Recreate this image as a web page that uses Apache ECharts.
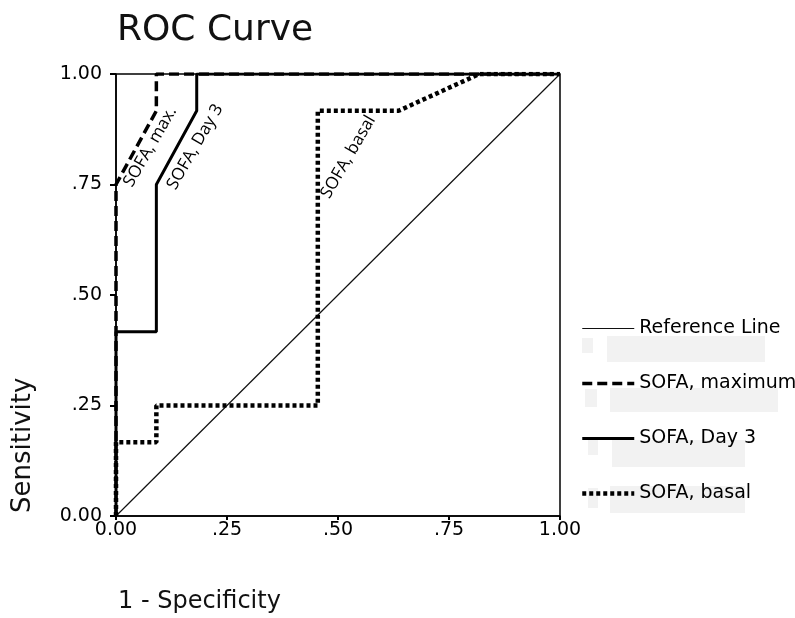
<!DOCTYPE html>
<html>
<head>
<meta charset="utf-8">
<script src="https://cdn.jsdelivr.net/npm/echarts@6/dist/echarts.min.js"></script>
<style>
html, body { margin: 0; padding: 0; background: #fff; }
#chart { width: 795px; height: 618px; }
</style>
</head>
<body>
<div id="chart"></div>
<script>
// ROC points, [1 - specificity, sensitivity]
var refLine = [[0, 0], [1, 1]];
var sofaMax = [[0, 0], [0, 0.75], [0.0909, 0.9167], [0.0909, 1], [1, 1]];
var sofaDay3 = [[0, 0], [0, 0.4167], [0.0909, 0.4167], [0.0909, 0.75], [0.1818, 0.9167], [0.1818, 1], [1, 1]];
var sofaBasal = [[0, 0], [0, 0.1667], [0.0909, 0.1667], [0.0909, 0.25], [0.4545, 0.25], [0.4545, 0.9167], [0.6364, 0.9167], [0.8182, 1], [1, 1]];

var seriesNames = ['Reference Line', 'SOFA, maximum', 'SOFA, Day 3', 'SOFA, basal'];
var tickLabels = ['0.00', '.25', '.50', '.75', '1.00'];

// in-plot labels: text and anchor in data units
var curveLabels = [
	{ text: 'SOFA, max.', at: [0.077, 0.835] },
	{ text: 'SOFA, Day 3', at: [0.178, 0.835] },
	{ text: 'SOFA, basal', at: [0.523, 0.812] }
];

var font = 'DejaVu Sans';

// line looks shared by series and legend
var styles = [
	{ color: '#111', width: 1.2 },
	{ color: '#000', width: 3.5, type: [10, 5] },
	{ color: '#000', width: 3 },
	{ color: '#000', width: 4.5, type: [4, 3] }
];

function tickFmt(v) {
	return tickLabels[Math.round(v * 4)];
}

var myChart = echarts.init(document.getElementById('chart'));

var option = {
	backgroundColor: '#fff',
	animation: false,
	color: ['#000', '#000', '#000', '#000'],
	title: {
		text: 'ROC Curve',
		left: 112,
		top: 8,
		textStyle: { fontFamily: font, fontSize: 36, fontWeight: 'normal', color: '#111' }
	},
	legend: {
		orient: 'vertical',
		left: 575,
		top: 314,
		itemWidth: 52,
		itemHeight: 14,
		itemGap: 36,
		itemStyle: { opacity: 0 },
		data: seriesNames.map(function(n, i) {
			return { name: n, lineStyle: styles[i] };
		}),
		textStyle: { fontFamily: font, fontSize: 19, color: '#000' }
	},
	grid: {
		left: 116,
		right: 235,
		top: 74,
		bottom: 102,
		show: true,
		borderColor: '#000',
		borderWidth: 1.5
	},
	xAxis: {
		type: 'value',
		min: 0,
		max: 1,
		interval: 0.25,
		axisLine: { lineStyle: { color: '#000', width: 1.5 } },
		axisTick: { show: true, length: 4, lineStyle: { color: '#000', width: 2 } },
		axisLabel: { formatter: tickFmt, margin: 5, fontFamily: font, fontSize: 19, color: '#000' },
		splitLine: { show: false }
	},
	yAxis: {
		type: 'value',
		min: 0,
		max: 1,
		interval: 0.25,
		axisLine: { lineStyle: { color: '#000', width: 1.5 } },
		axisTick: { show: true, length: 6, lineStyle: { color: '#000', width: 2 } },
		axisLabel: { formatter: tickFmt, margin: 14, fontFamily: font, fontSize: 19, color: '#000' },
		splitLine: { show: false }
	},
	series: [{
		name: seriesNames[0],
		type: 'line',
		symbol: 'none',
		data: refLine,
		lineStyle: styles[0],
		z: 2
	}, {
		name: seriesNames[1],
		type: 'line',
		symbol: 'none',
		data: sofaMax,
		lineStyle: styles[1],
		z: 4
	}, {
		name: seriesNames[2],
		type: 'line',
		symbol: 'none',
		data: sofaDay3,
		lineStyle: styles[2],
		z: 3
	}, {
		name: seriesNames[3],
		type: 'line',
		symbol: 'none',
		data: sofaBasal,
		lineStyle: styles[3],
		z: 3
	}]
};
myChart.setOption(option);

// grey blocks under legend entries (blurred entries in the original)
var greyRects = [
	[582, 338, 11, 15], [607, 336, 158, 26],
	[585, 389, 12, 18], [610, 388, 168, 24],
	[588, 439, 10, 16], [612, 440, 133, 27],
	[588, 488, 10, 20], [610, 486, 135, 27]
];

var elements = [];
greyRects.forEach(function(r) {
	elements.push({
		type: 'rect',
		shape: { x: r[0], y: r[1], width: r[2], height: r[3] },
		style: { fill: '#f2f2f2' },
		z: -1
	});
});

curveLabels.forEach(function(l) {
	var p = myChart.convertToPixel({ gridIndex: 0 }, l.at);
	elements.push({
		type: 'text',
		x: p[0],
		y: p[1],
		rotation: 60 * Math.PI / 180,
		style: {
			text: l.text,
			fontFamily: 'Open Sans',
			fontSize: 17,
			fill: '#000',
			align: 'center',
			verticalAlign: 'middle'
		},
		z: 10
	});
});

elements.push({
	type: 'text',
	x: 118,
	y: 602,
	style: { text: '1 - Specificity', fontFamily: font, fontSize: 24, fill: '#111', verticalAlign: 'middle' }
});
elements.push({
	type: 'text',
	x: 23,
	y: 513,
	rotation: Math.PI / 2,
	style: { text: 'Sensitivity', fontFamily: font, fontSize: 26, fill: '#111', verticalAlign: 'middle' }
});

myChart.setOption({ graphic: elements });
</script>
</body>
</html>
